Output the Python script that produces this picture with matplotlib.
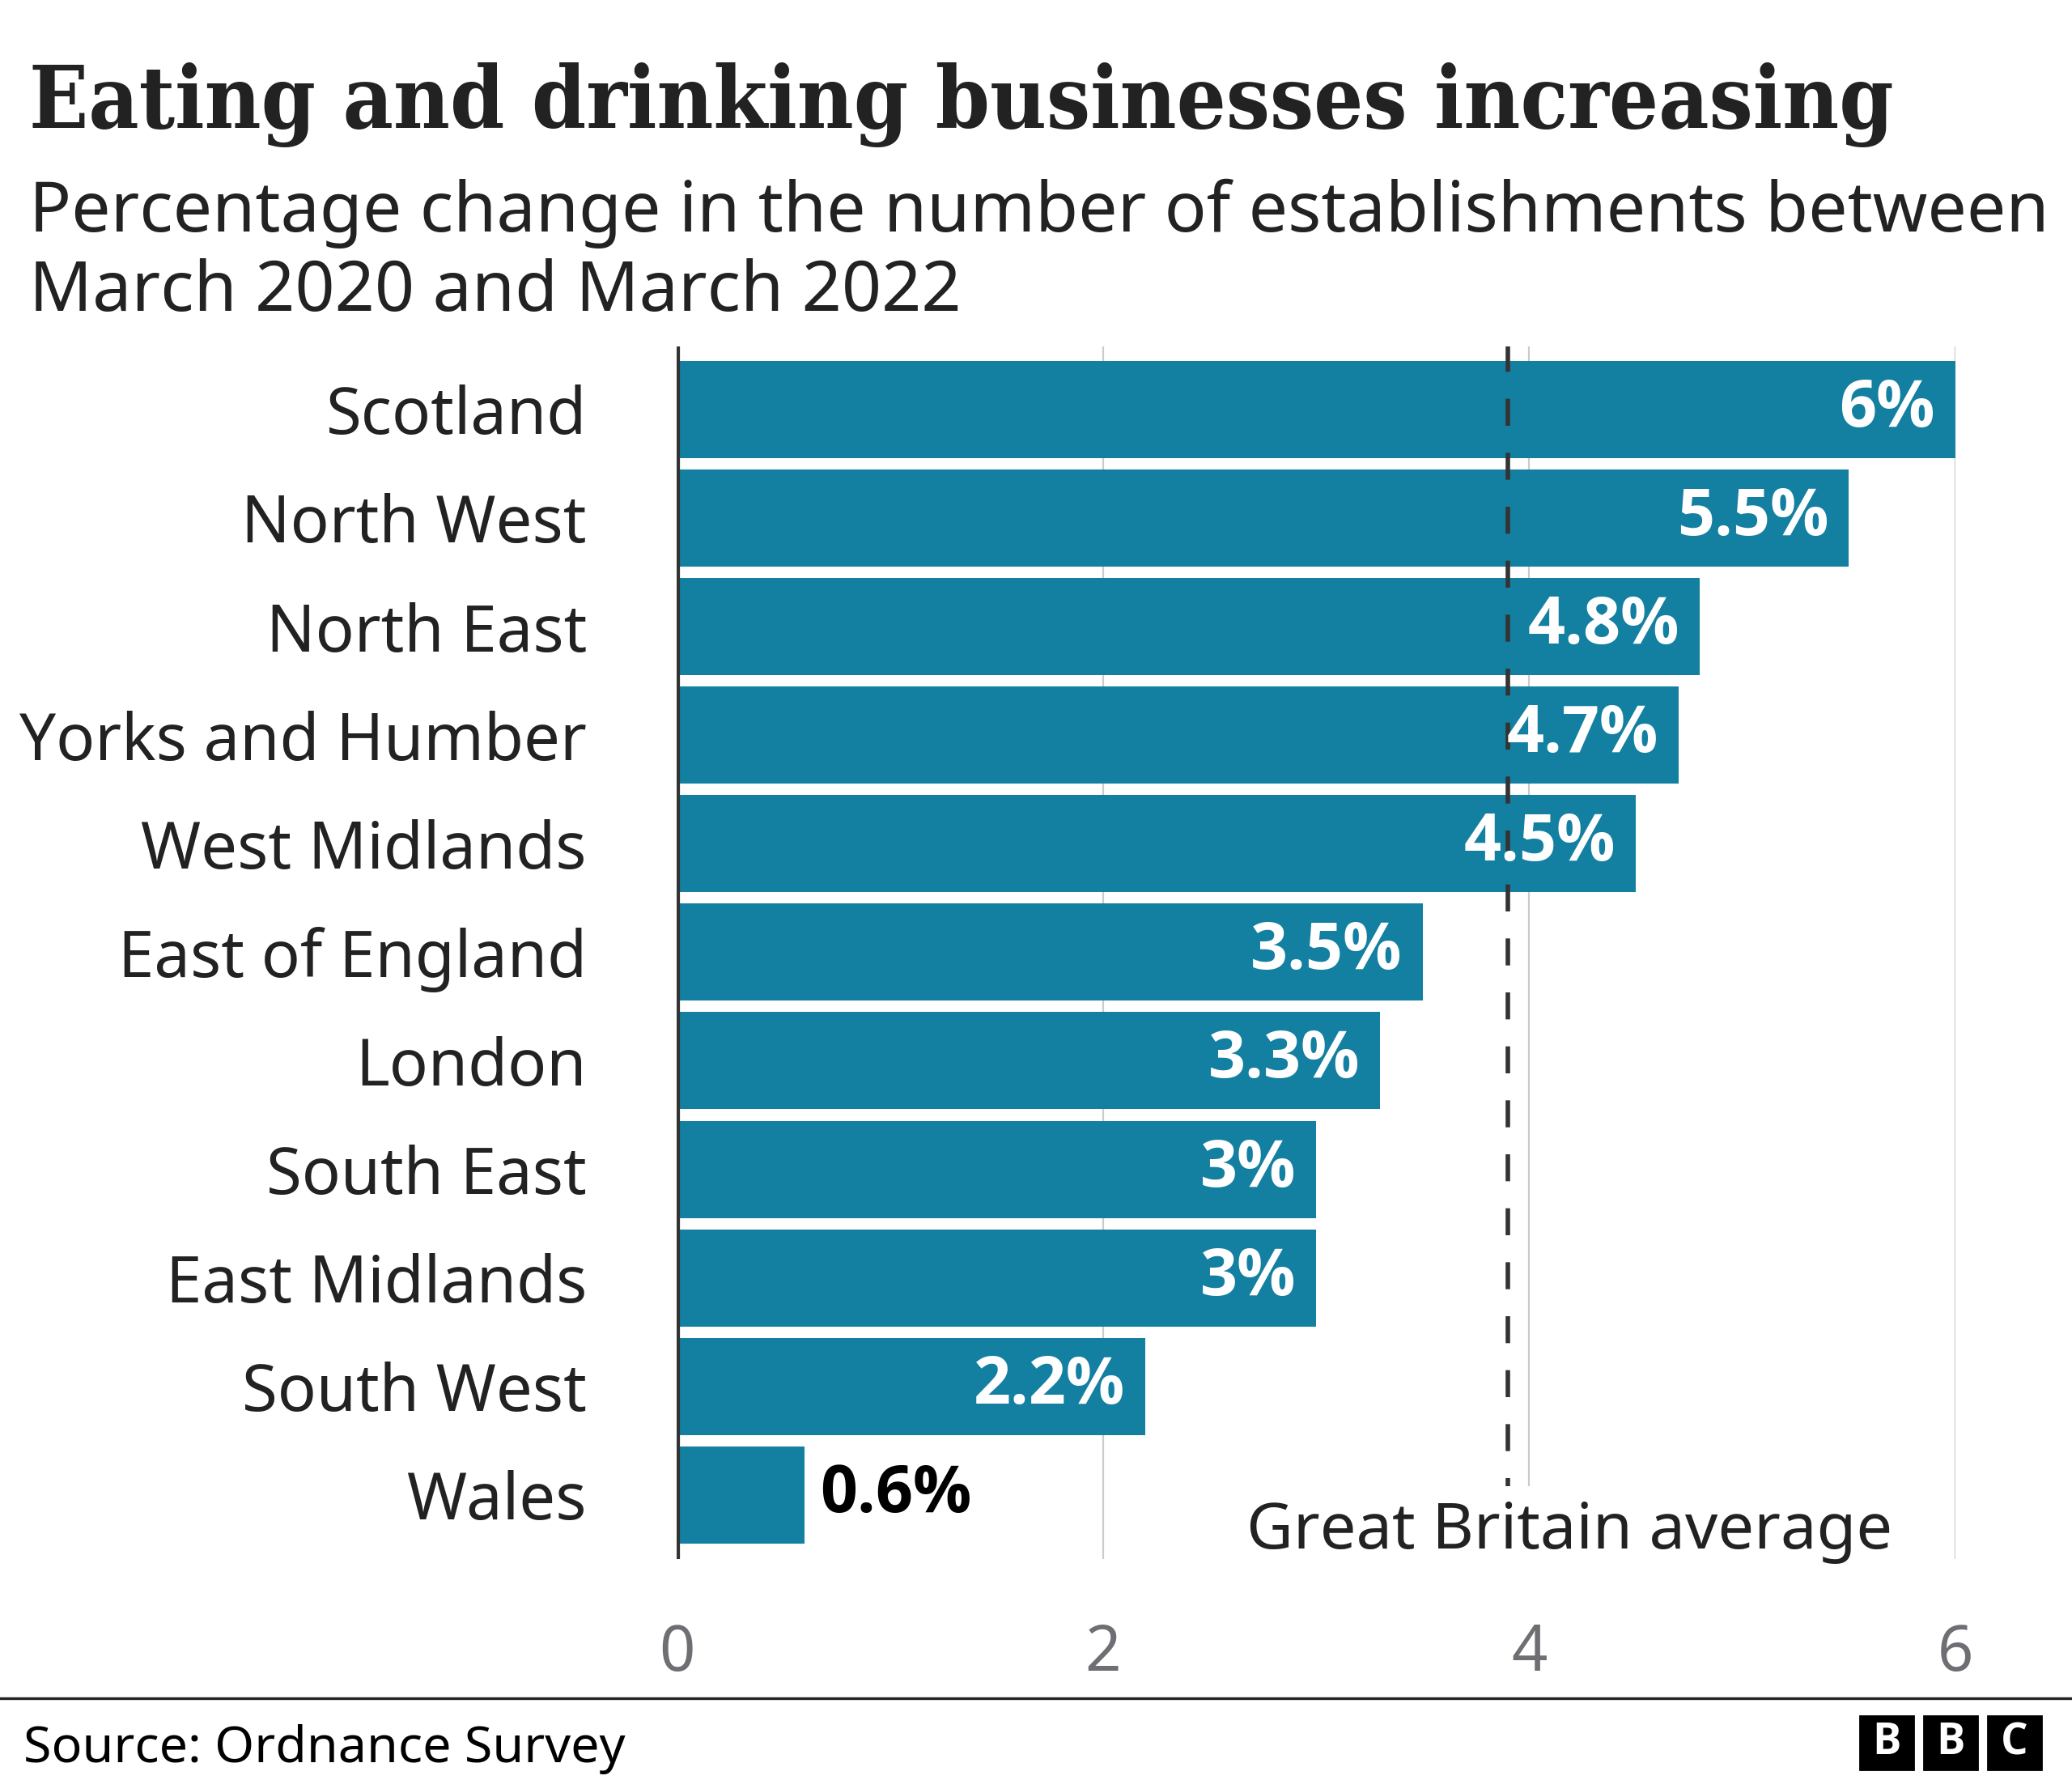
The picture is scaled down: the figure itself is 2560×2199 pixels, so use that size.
import matplotlib.pyplot as plt
from matplotlib.patches import Rectangle
import matplotlib.transforms as mtransforms

# data
regions = ["Scotland", "North West", "North East", "Yorks and Humber", "West Midlands",
           "East of England", "London", "South East", "East Midlands", "South West", "Wales"]
change = [6.0, 5.5, 4.8, 4.7, 4.5, 3.5, 3.3, 3.0, 3.0, 2.2, 0.6]
labels = ["6%", "5.5%", "4.8%", "4.7%", "4.5%", "3.5%", "3.3%", "3%", "3%", "2.2%", "0.6%"]
gb_average = 3.9
xticks = [0, 2, 4, 6]

W, H = 2560, 2199
fig = plt.figure(figsize=(W / 200, H / 200), dpi=200)
sans = "Noto Sans"
bold = "Open Sans"
txt = "#222222"

# axes in pixel terms
left, right, top, bottom = 836, 2416, 428, 1926
ax = fig.add_axes([left / W, 1 - bottom / H, (right - left) / W, (bottom - top) / H])

y = list(range(len(regions)))
ax.barh(y, change, height=0.895, color="#1380A1", zorder=2)
ax.set_ylim(len(regions) - 1 + 0.59, -0.58)
ax.set_xlim(0, 6)

ax.set_yticks(y)
ax.set_yticklabels(regions, fontsize=28.7, family=sans, color=txt)
ax.set_xticks(xticks)
ax.set_xticklabels([str(t) for t in xticks], fontsize=28, family=sans, color="#6e6e73")
ax.tick_params(axis="y", length=0, pad=40)
ax.tick_params(axis="x", length=0, pad=28)

for s in ["top", "right", "bottom", "left"]:
    ax.spines[s].set_visible(False)
ax.grid(axis="x", color="#cbcbcb", linewidth=0.8, zorder=0)
ax.grid(axis="y", visible=False)
ax.set_axisbelow(True)
ax.axvline(0, color="#333333", linewidth=2.6, zorder=4)

# GB average dashed line
ax.axvline(gb_average, color="#333333", linewidth=2.0, dashes=(6, 6), zorder=3)

# value labels
for yi, v, lab in zip(y, change, labels):
    if v > 1:
        ax.annotate(lab, (v, yi), xytext=(-9, 0), textcoords="offset points",
                    ha="right", va="center", fontsize=29, fontweight="bold",
                    family=bold, color="white", zorder=5)
    else:
        ax.annotate(lab, (v, yi), xytext=(7, 0), textcoords="offset points",
                    ha="left", va="center", fontsize=29, fontweight="bold",
                    family=bold, color="black", zorder=5)

trans = mtransforms.blended_transform_factory(ax.transData, ax.transAxes)
ax.text(4.19, 0.009, "Great Britain average", transform=trans, ha="center",
        va="baseline", fontsize=28.6, family=sans, color=txt, zorder=6,
        bbox=dict(facecolor="white", edgecolor="none", pad=6))

# titles
fig.text(36 / W, 1 - 158 / H, "Eating and drinking businesses increasing",
         family="DejaVu Serif", fontstretch="condensed", fontweight="bold",
         fontsize=38.5, color=txt, va="baseline", ha="left")
fig.text(36 / W, 1 - 286 / H, "Percentage change in the number of establishments between",
         family=sans, fontsize=31, color=txt, va="baseline", ha="left")
fig.text(36 / W, 1 - 384 / H, "March 2020 and March 2022",
         family=sans, fontsize=31, color=txt, va="baseline", ha="left")

# footer
fig.add_artist(plt.Line2D([0, 1], [1 - 2098 / H] * 2, color="#222222", linewidth=1.2,
                          transform=fig.transFigure))
fig.text(29 / W, 1 - 2177 / H, "Source: Ordnance Survey", family=sans, fontsize=22.6,
         color="black", va="baseline", ha="left")

# BBC blocks
s, g = 66, 13
x0 = 2522 - (3 * s + 2 * g)
for i, letter in enumerate("BBC"):
    xl = x0 + i * (s + g)
    fig.add_artist(Rectangle((xl / W, 1 - 2186 / H), s / W, s / H, color="black",
                             transform=fig.transFigure))
    fig.text((xl + s / 2) / W, 1 - (2186 - s / 2) / H, letter, color="white",
             fontsize=19, fontweight="bold", family=bold, ha="center", va="center")

fig.savefig("out.png", dpi=200, facecolor="white")
